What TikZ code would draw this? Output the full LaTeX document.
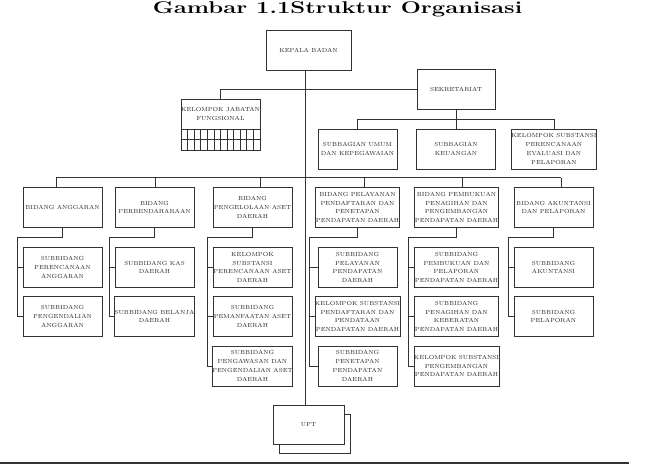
\documentclass[tikz,border=0pt]{standalone}
\usepackage{tikz}
\usetikzlibrary{positioning, calc, shadows}

\begin{document}
\begin{tikzpicture}[x=1pt, y=-1pt,
  unit/.style={draw=black!80, line width=0.9pt, fill=white, text=black!85, font=\fontsize{5.9}{8.7}\selectfont, align=center, inner sep=0pt, outer sep=0pt, minimum width=79pt, minimum height=39.5pt},
  link/.style={draw=black!80, line width=0.9pt}]
  \useasboundingbox (0,0) rectangle (657,464);

  % judul
  \node[font=\bfseries\fontsize{17}{17}\selectfont, anchor=base, inner sep=0pt] (judul) at (337.5,13) {\scalebox{1.4}[1]{Gambar 1.1Struktur Organisasi}};

  % pimpinan dan sekretariat
  \node[unit, minimum width=85pt] (kepala) at (308.5,50.5) {KEPALA BADAN};
  \node[unit, minimum width=78pt] (sekretariat) at (456,89.5) {SEKRETARIAT};
  \node[unit, minimum height=30pt, anchor=north] (kjf) at (220.5,99) {KELOMPOK JABATAN\\FUNGSIONAL};
  \node[unit, minimum height=21pt, below=0pt of kjf] (kjfgrid) {};
  \foreach \i in {1,...,11}
    \draw[link, line width=0.7pt] ($(kjfgrid.north west)+(\i*79/12,0)$) -- ($(kjfgrid.south west)+(\i*79/12,0)$);
  \draw[link, line width=0.7pt] (kjfgrid.west) -- (kjfgrid.east);

  \node[unit, minimum height=40pt] (sbumum) at (357.5,149) {SUBBAGIAN UMUM\\DAN KEPEGAWAIAN};
  \node[unit, minimum height=40pt] (sbkeu) at (456,149) {SUBBAGIAN\\KEUANGAN};
  \node[unit, minimum height=40pt] (ksperenc) at (554,149) {KELOMPOK SUBSTANSI\\PERENCANAAN\\EVALUASI DAN\\PELAPORAN};

  % bidang
  \node[unit] (bang) at (62.5,207.5) {BIDANG ANGGARAN};
  \node[unit] (bbend) at (154.5,207.5) {BIDANG\\PERBENDAHARAAN};
  \node[unit] (baset) at (252.5,207.5) {BIDANG\\PENGELOLAAN ASET\\DAERAH};
  \node[unit] (bpel) at (357.5,207.5) {BIDANG PELAYANAN\\PENDAFTARAN DAN\\PENETAPAN\\PENDAPATAN DAERAH};
  \node[unit] (bbuk) at (456.5,207.5) {BIDANG PEMBUKUAN\\PENAGIHAN DAN\\PENGEMBANGAN\\PENDAPATAN DAERAH};
  \node[unit] (bakun) at (553.5,207.5) {BIDANG AKUNTANSI\\DAN PELAPORAN};

  % subbidang
  \node[unit] (sang1) at (62.5,267.5) {SUBBIDANG\\PERENCANAAN\\ANGGARAN};
  \node[unit] (sang2) at (62.5,316.5) {SUBBIDANG\\PENGENDALIAN\\ANGGARAN};
  \node[unit] (sbend1) at (154.5,267.5) {SUBBIDANG KAS\\DAERAH};
  \node[unit] (sbend2) at (154.5,316.5) {SUBBIDANG BELANJA\\DAERAH};
  \node[unit] (saset1) at (252.5,267.5) {KELOMPOK\\SUBSTANSI\\PERENCANAAN ASET\\DAERAH};
  \node[unit] (saset2) at (252.5,316.5) {SUBBIDANG\\PEMANFAATAN ASET\\DAERAH};
  \node[unit, minimum height=40pt] (saset3) at (252.5,366) {SUBBIDANG\\PENGAWASAN DAN\\PENGENDALIAN ASET\\DAERAH};
  \node[unit] (spel1) at (357.5,267.5) {SUBBIDANG\\PELAYANAN\\PENDAPATAN\\DAERAH};
  \node[unit] (spel2) at (357.5,316.5) {KELOMPOK SUBSTANSI\\PENDAFTARAN DAN\\PENDATAAN\\PENDAPATAN DAERAH};
  \node[unit, minimum height=40pt] (spel3) at (357.5,366) {SUBBIDANG\\PENETAPAN\\PENDAPATAN\\DAERAH};
  \node[unit] (sbuk1) at (456.5,267.5) {SUBBIDANG\\PEMBUKUAN DAN\\PELAPORAN\\PENDAPATAN DAERAH};
  \node[unit] (sbuk2) at (456.5,316.5) {SUBBIDANG\\PENAGIHAN DAN\\KEBERATAN\\PENDAPATAN DAERAH};
  \node[unit, minimum height=40pt] (sbuk3) at (456.5,366) {KELOMPOK SUBSTANSI\\PENGEMBANGAN\\PENDAPATAN DAERAH};
  \node[unit] (sakun1) at (553.5,267.5) {SUBBIDANG\\AKUNTANSI};
  \node[unit] (sakun2) at (553.5,316.5) {SUBBIDANG\\PELAPORAN};

  % UPT
  \node[unit, minimum width=71pt, minimum height=39pt, copy shadow={shadow xshift=6.5pt, shadow yshift=-9.5pt, draw=black!80, fill=white, line width=0.9pt}] (upt) at (308.5,424.5) {UPT};

  % garis komando
  \draw[link] ([xshift=-3pt]kepala.south) -- ([xshift=-3pt]upt.north);
  \draw[link] (sekretariat.west) -| (kjf.north);
  \coordinate (simpulsek) at ($(sekretariat.south)+(0,10)$);
  \draw[link] (sekretariat.south) -- (simpulsek);
  \draw[link] (sbumum.north) |- (simpulsek) -| (ksperenc.north);
  \draw[link] (simpulsek) -- (sbkeu.north);

  \coordinate (barkiri) at ($(bang.north)+(-6.5,-10)$);
  \coordinate (barkanan) at ($(bakun.north)+(7.5,-10)$);
  \draw[link] (barkiri) -- (barkanan);
  \foreach \b/\dx in {bang/-6.5, bbend/0.5, baset/7.5, bpel/6.5, bbuk/5.5, bakun/7.5}
    \draw[link] ([xshift=\dx pt]\b.north) -- ++(0,-10);

  \foreach \b/\last in {bang/sang2, bbend/sbend2, baset/saset3, bpel/spel3, bbuk/sbuk3, bakun/sakun2}{
    \coordinate (k\b) at ($(\b.south west)+(-6,10.5)$);
    \draw[link] (\b.south) |- (k\b) |- (\last.west);
  }
  \foreach \k/\s in {bang/sang1, bbend/sbend1, baset/saset1, baset/saset2, bpel/spel1, bpel/spel2, bbuk/sbuk1, bbuk/sbuk2, bakun/sakun1}
    \draw[link] (k\k) |- (\s.west);

  % garis bawah
  \draw[black!80, line width=2pt] (0,462.5) -- (629,462.5);
\end{tikzpicture}
\end{document}
